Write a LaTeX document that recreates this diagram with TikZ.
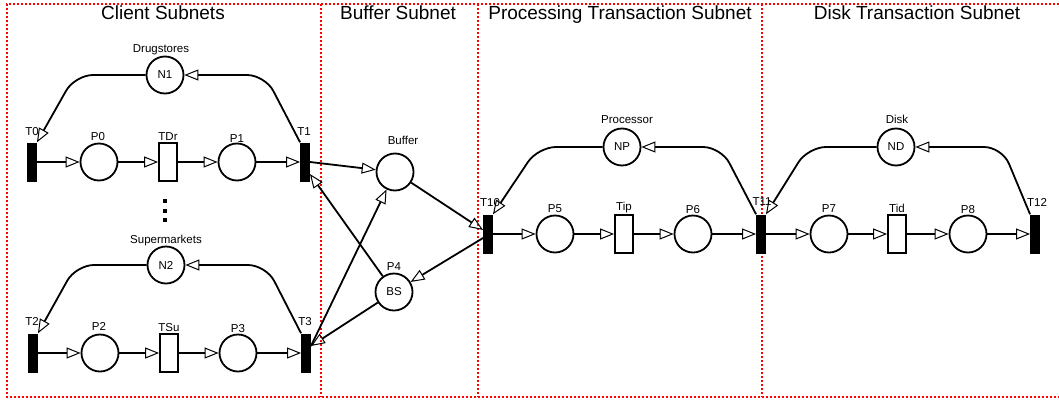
\documentclass[tikz,border=0pt]{standalone}
\usepackage{fontspec}
\setmainfont{Liberation Sans}
\usetikzlibrary{arrows.meta}

\begin{document}
\begin{tikzpicture}[x=1pt, y=-1pt,
        place/.style={circle, draw, line width=1.8pt, minimum size=37pt, inner sep=0pt, font=\fontsize{11.5}{12}\selectfont},
        trans/.style={rectangle, fill=black, minimum width=9.5pt, minimum height=39pt, inner sep=0pt},
        timed/.style={rectangle, draw, line width=1.8pt, minimum width=18pt, minimum height=38pt, inner sep=0pt},
        lbl/.style={anchor=base, inner sep=0pt, font=\fontsize{11.5}{12}\selectfont},
        subtitle/.style={anchor=base, inner sep=0pt, font=\fontsize{19}{22}\selectfont},
        flow/.style={line width=1.8pt, -{Triangle[open, length=14pt, width=11pt, line width=1pt]}},
        subnetline/.style={red, line width=1.1pt, dash pattern=on 2pt off 2pt}]
        \useasboundingbox (0,0) rectangle (1059,399);

        % subnet frames
        \draw[subnetline] (1059,4) -- (7,4) -- (7,397) -- (1059,397);
        \foreach \x in {321,478,762}
            \draw[subnetline] (\x,4) -- (\x,397);
        \node[subtitle] (tClient) at (163,19) {Client Subnets};
        \node[subtitle] (tBuffer) at (398,19) {Buffer Subnet};
        \node[subtitle] (tProc) at (620,19) {Processing Transaction Subnet};
        \node[subtitle] (tDisk) at (917,19) {Disk Transaction Subnet};

        % drugstores
        \node[trans] (T0) at (32,162) {};
        \node[place] (P0) at (99,162) {};
        \node[timed] (TDr) at (168,162) {};
        \node[place] (P1) at (237,162) {};
        \node[trans] (T1) at (305,162) {};
        \node[place] (N1) at (165,75) {N1};
        \node[lbl] (lN1) at (161,52) {Drugstores};
        \node[lbl] (lT0) at (32,135) {T0};
        \node[lbl] (lP0) at (98,140) {P0};
        \node[lbl] (lTDr) at (168,140) {TDr};
        \node[lbl] (lP1) at (237,142) {P1};
        \node[lbl] (lT1) at (304,135) {T1};

        % more clients
        \foreach \y in {201,211,220}
            \node[fill, minimum size=3.5pt, inner sep=0pt] (dot\y) at (165,\y) {};

        % supermarkets
        \node[trans] (T2) at (33,353) {};
        \node[place] (P2) at (100,353) {};
        \node[timed] (TSu) at (169,353) {};
        \node[place] (P3) at (238,353) {};
        \node[trans] (T3) at (306,353) {};
        \node[place] (N2) at (166,265) {N2};
        \node[lbl] (lN2) at (166,243) {Supermarkets};
        \node[lbl] (lT2) at (32,325) {T2};
        \node[lbl] (lP2) at (99,330) {P2};
        \node[lbl] (lTSu) at (169,331) {TSu};
        \node[lbl] (lP3) at (238,332) {P3};
        \node[lbl] (lT3) at (305,325) {T3};

        % buffer
        \node[place] (Buffer) at (395,172) {};
        \node[place] (P4) at (394,292) {BS};
        \node[lbl] (lBuffer) at (403,144) {Buffer};
        \node[lbl] (lP4) at (394,270) {P4};

        % processing
        \node[trans] (T10) at (488,234) {};
        \node[place] (P5) at (555,234) {};
        \node[timed] (Tip) at (624,234) {};
        \node[place] (P6) at (693,234) {};
        \node[trans] (T11) at (761,234) {};
        \node[place] (NP) at (622,147) {NP};
        \node[lbl] (lNP) at (627,123) {Processor};
        \node[lbl] (lT10) at (490,206) {T10};
        \node[lbl] (lP5) at (555,212) {P5};
        \node[lbl] (lTip) at (624,210) {Tip};
        \node[lbl] (lP6) at (693,213) {P6};
        \node[lbl] (lT11) at (762,205) {T11};

        % disk
        \node[place] (P7) at (829,234) {};
        \node[timed] (Tid) at (897,234) {};
        \node[place] (P8) at (968,234) {};
        \node[trans] (T12) at (1035,234) {};
        \node[place] (ND) at (896,147) {ND};
        \node[lbl] (lND) at (897,123) {Disk};
        \node[lbl] (lP7) at (829,212) {P7};
        \node[lbl] (lTid) at (897,212) {Tid};
        \node[lbl] (lP8) at (968,213) {P8};
        \node[lbl] (lT12) at (1037,206) {T12};

        % arcs
        \foreach \from/\to in {T0/P0, P0/TDr, TDr/P1, P1/T1, T2/P2, P2/TSu, TSu/P3, P3/T3,
                T10/P5, P5/Tip, Tip/P6, P6/T11, T11/P7, P7/Tid, Tid/P8, P8/T12}
            \draw[flow] (\from) -- (\to);

        \coordinate (N1a) at (75,75);
        \coordinate (N1b) at (265,75);
        \coordinate (N2a) at (76,265);
        \coordinate (N2b) at (266,265);
        \coordinate (NPa) at (538,147);
        \coordinate (NPb) at (721,147);
        \coordinate (NDa) at (808,147);
        \coordinate (NDb) at (1002,147);
        \draw[flow, rounded corners=18pt] (T1.north west) -- (N1b) -- (N1);
        \draw[flow, rounded corners=18pt] (N1) -- (N1a) -- (T0.north east);
        \draw[flow, rounded corners=18pt] (T3.north west) -- (N2b) -- (N2);
        \draw[flow, rounded corners=18pt] (N2) -- (N2a) -- (T2.north east);
        \draw[flow, rounded corners=18pt] (T11.north west) -- (NPb) -- (NP);
        \draw[flow, rounded corners=18pt] (NP) -- (NPa) -- (T10.north east);
        \draw[flow, rounded corners=18pt] (T12.north west) -- (NDb) -- (ND);
        \draw[flow, rounded corners=18pt] (ND) -- (NDa) -- (T11.north east);

        \draw[flow] (T1.east) -- (Buffer);
        \draw[flow] ([yshift=7pt]T3.east) -- (Buffer);
        \draw[flow] (Buffer) -- ([yshift=4pt]T10.west);
        \draw[flow] ([yshift=-4pt]T10.west) -- (P4);
        \draw[flow] (P4) -- ([yshift=-12pt]T1.east);
        \draw[flow] (P4) -- ([yshift=7pt]T3.east);
\end{tikzpicture}
\end{document}
